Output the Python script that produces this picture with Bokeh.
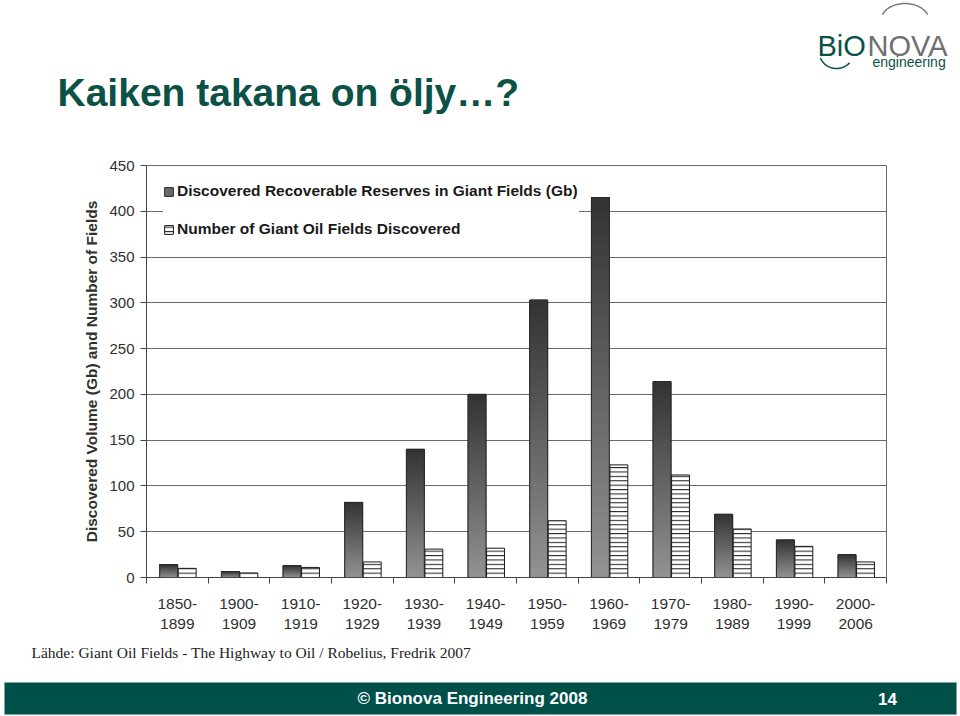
from bokeh.plotting import figure
from bokeh.layouts import column
from bokeh.models import (FixedTicker, Legend, LegendItem, ColumnDataSource, Range1d)
from bokeh.core.properties import value
from bokeh.embed import file_html
from bokeh.resources import INLINE
import numpy as np

# ---------------- data ----------------
periods = ["1850-1899", "1900-1909", "1910-1919", "1920-1929", "1930-1939", "1940-1949",
           "1950-1959", "1960-1969", "1970-1979", "1980-1989", "1990-1999", "2000-2006"]
reserves = [14, 6.5, 13, 82, 140, 200, 303, 415, 214, 69, 41, 25]
fields = [10, 5, 11, 17, 31, 32, 62, 123, 112, 53, 34, 17]
y_ticks = [0, 50, 100, 150, 200, 250, 300, 350, 400, 450]

title_text = "Kaiken takana on öljy…?"
source_text = "Lähde: Giant Oil Fields - The Highway to Oil / Robelius, Fredrik 2007"
footer_text = "© Bionova Engineering 2008"
page_no = "14"
series_names = ["Discovered Recoverable Reserves in Giant Fields (Gb)",
                "Number of Giant Oil Fields Discovered"]
y_label = "Discovered Volume (Gb) and Number of Fields"

# ---------------- layout constants ----------------
W = 960
HEAD_H = 130          # page y 0..130
FOOT_Y0 = 636         # page y 636..716
FL, FR, FT, FB = 146, 886, 165, 577   # chart frame edges in page pixels
GREEN = "#0b5146"
SANS = value("Liberation Sans")


def deco_fig(y0, y1):
    f = figure(width=W, height=y1 - y0, x_range=Range1d(0, W), y_range=Range1d(y1, y0),
               x_axis_type=None, y_axis_type=None, output_backend="svg", toolbar_location=None,
               min_border=0, min_border_left=0, min_border_right=0, min_border_top=0,
               min_border_bottom=0)
    f.frame_align = False
    f.outline_line_color = None
    f.grid.visible = False
    f.background_fill_color = "white"
    f.border_fill_color = "white"
    return f

# ---------------- header ----------------
head = deco_fig(0, HEAD_H)
head.text(x=[57], y=[92], text=[title_text], text_font=SANS, text_font_size="39px",
          text_font_style="bold", text_color=GREEN, text_baseline="middle")
head.text(x=[817], y=[45], text=["BiO"], text_font=SANS, text_font_size="29px",
          text_color=GREEN, text_baseline="middle")
head.text(x=[867], y=[45], text=["NOVA"], text_font=SANS, text_font_size="29px",
          text_color="#707070", text_baseline="middle")
head.text(x=[872], y=[61], text=["engineering"], text_font=SANS, text_font_size="14px",
          text_color=GREEN, text_baseline="middle")
ang = np.radians(np.linspace(20, 160, 40))
head.line(904.5 + 24 * np.cos(ang), 20 - 17 * np.sin(ang), line_color="#7a7a7a", line_width=1.5)
ang = np.radians(np.linspace(-160, -40, 40))
head.line(836 + 17 * np.cos(ang), 52 - 16 * np.sin(ang), line_color=GREEN, line_width=1.6)

# ---------------- chart ----------------
n = len(periods)
xc = np.arange(n) + 0.5
bw = 0.29
x_dark = xc - 0.14
x_hatch = xc + 0.16

p = figure(width=W, height=FOOT_Y0 - HEAD_H, x_range=Range1d(0, n), y_range=Range1d(0, 450),
           output_backend="svg", toolbar_location=None,
           min_border_left=FL, min_border_right=W - FR,
           min_border_top=FT - HEAD_H, min_border_bottom=FOOT_Y0 - FB)
p.frame_align = False
p.background_fill_color = "white"
p.border_fill_color = "white"
p.outline_line_color = "#6a6a6a"

base = p.vbar(x=x_dark, top=reserves, width=bw, fill_color="#6a6a6a", line_color="#2a2a2a")

# gradient slices (dark at top -> light at bottom)
N = 32
light = np.array([0x92, 0x92, 0x92])
dark = np.array([0x34, 0x34, 0x34])
gx, gb, gt, gc = [], [], [], []
for xi, v in zip(x_dark, reserves):
    for k in range(N):
        t = k / (N - 1)
        c = (light + (dark - light) * t).astype(int)
        gx.append(xi)
        gb.append(v * k / N)
        gt.append(v)
        gc.append("#%02x%02x%02x" % tuple(c))
p.vbar(x="x", bottom="b", top="t", width=bw, fill_color="c", line_color=None,
       source=ColumnDataSource(dict(x=gx, b=gb, t=gt, c=gc)))
p.vbar(x=x_dark, top=reserves, width=bw, fill_color=None, line_color="#2a2a2a", line_width=1)

hatched = p.vbar(x=x_hatch, top=fields, width=bw, fill_color="white", line_color="#1a1a1a",
                 hatch_pattern="horizontal_line", hatch_scale=4.4, hatch_weight=1,
                 hatch_color="#1a1a1a")

p.xaxis.ticker = FixedTicker(ticks=list(xc), minor_ticks=list(range(n + 1)))
p.xaxis.major_label_overrides = {float(xi): lab.replace("-", "-\n", 1) for xi, lab in zip(xc, periods)}
p.xaxis.major_tick_out = 0
p.xaxis.major_tick_in = 0
p.xaxis.minor_tick_out = 6
p.xaxis.minor_tick_in = 0
p.xaxis.minor_tick_line_color = "#444444"
p.xaxis.axis_line_color = "#444444"
p.xaxis.major_label_text_font = "Liberation Sans"
p.xaxis.major_label_text_font_size = "15.5px"
p.xaxis.major_label_text_color = "#303030"
p.xaxis.major_label_standoff = 11
p.xgrid.visible = False

p.yaxis.ticker = FixedTicker(ticks=y_ticks)
p.yaxis.minor_tick_line_color = None
p.yaxis.major_tick_out = 6
p.yaxis.major_tick_in = 0
p.yaxis.major_tick_line_color = "#444444"
p.yaxis.axis_line_color = "#444444"
p.yaxis.major_label_text_font = "Liberation Sans"
p.yaxis.major_label_text_font_size = "15px"
p.yaxis.major_label_text_color = "#303030"
p.yaxis.major_label_standoff = 6
p.yaxis.axis_label = y_label
p.yaxis.axis_label_text_font = "Liberation Sans"
p.yaxis.axis_label_text_font_size = "15.5px"
p.yaxis.axis_label_text_font_style = "bold"
p.yaxis.axis_label_text_color = "#303030"
p.yaxis.axis_label_standoff = 6
p.ygrid.ticker = FixedTicker(ticks=y_ticks)
p.ygrid.grid_line_color = "#6a6a6a"

legend = Legend(items=[LegendItem(label=series_names[0], renderers=[base]),
                       LegendItem(label=series_names[1], renderers=[hatched])],
                location="top_left", margin=17, padding=0, spacing=20,
                border_line_color=None, background_fill_color="white", background_fill_alpha=1,
                label_text_font="Liberation Sans", label_text_font_size="15.5px",
                label_text_font_style="bold", label_text_color="#1a1a1a",
                glyph_width=11, glyph_height=11, label_height=15, label_width=402,
                label_standoff=3)
p.add_layout(legend)

# ---------------- footer ----------------
foot = deco_fig(FOOT_Y0, 716)
foot.text(x=[31], y=[652], text=[source_text], text_font=value("Liberation Serif"),
          text_font_size="15.5px", text_color="#222222", text_baseline="middle")
foot.quad(left=[4], right=[956], top=[682], bottom=[714], fill_color="#00504a",
          line_color="#7fa8a2", line_width=1)
foot.text(x=[472], y=[698], text=[footer_text], text_font=SANS, text_font_size="17px",
          text_font_style="bold", text_color="white", text_align="center",
          text_baseline="middle")
foot.text(x=[887], y=[698], text=[page_no], text_font=SANS, text_font_size="17px",
          text_font_style="bold", text_color="white", text_align="center",
          text_baseline="middle")

layout = column(head, p, foot, spacing=0)
open("out.html", "w").write(file_html(layout, INLINE))
